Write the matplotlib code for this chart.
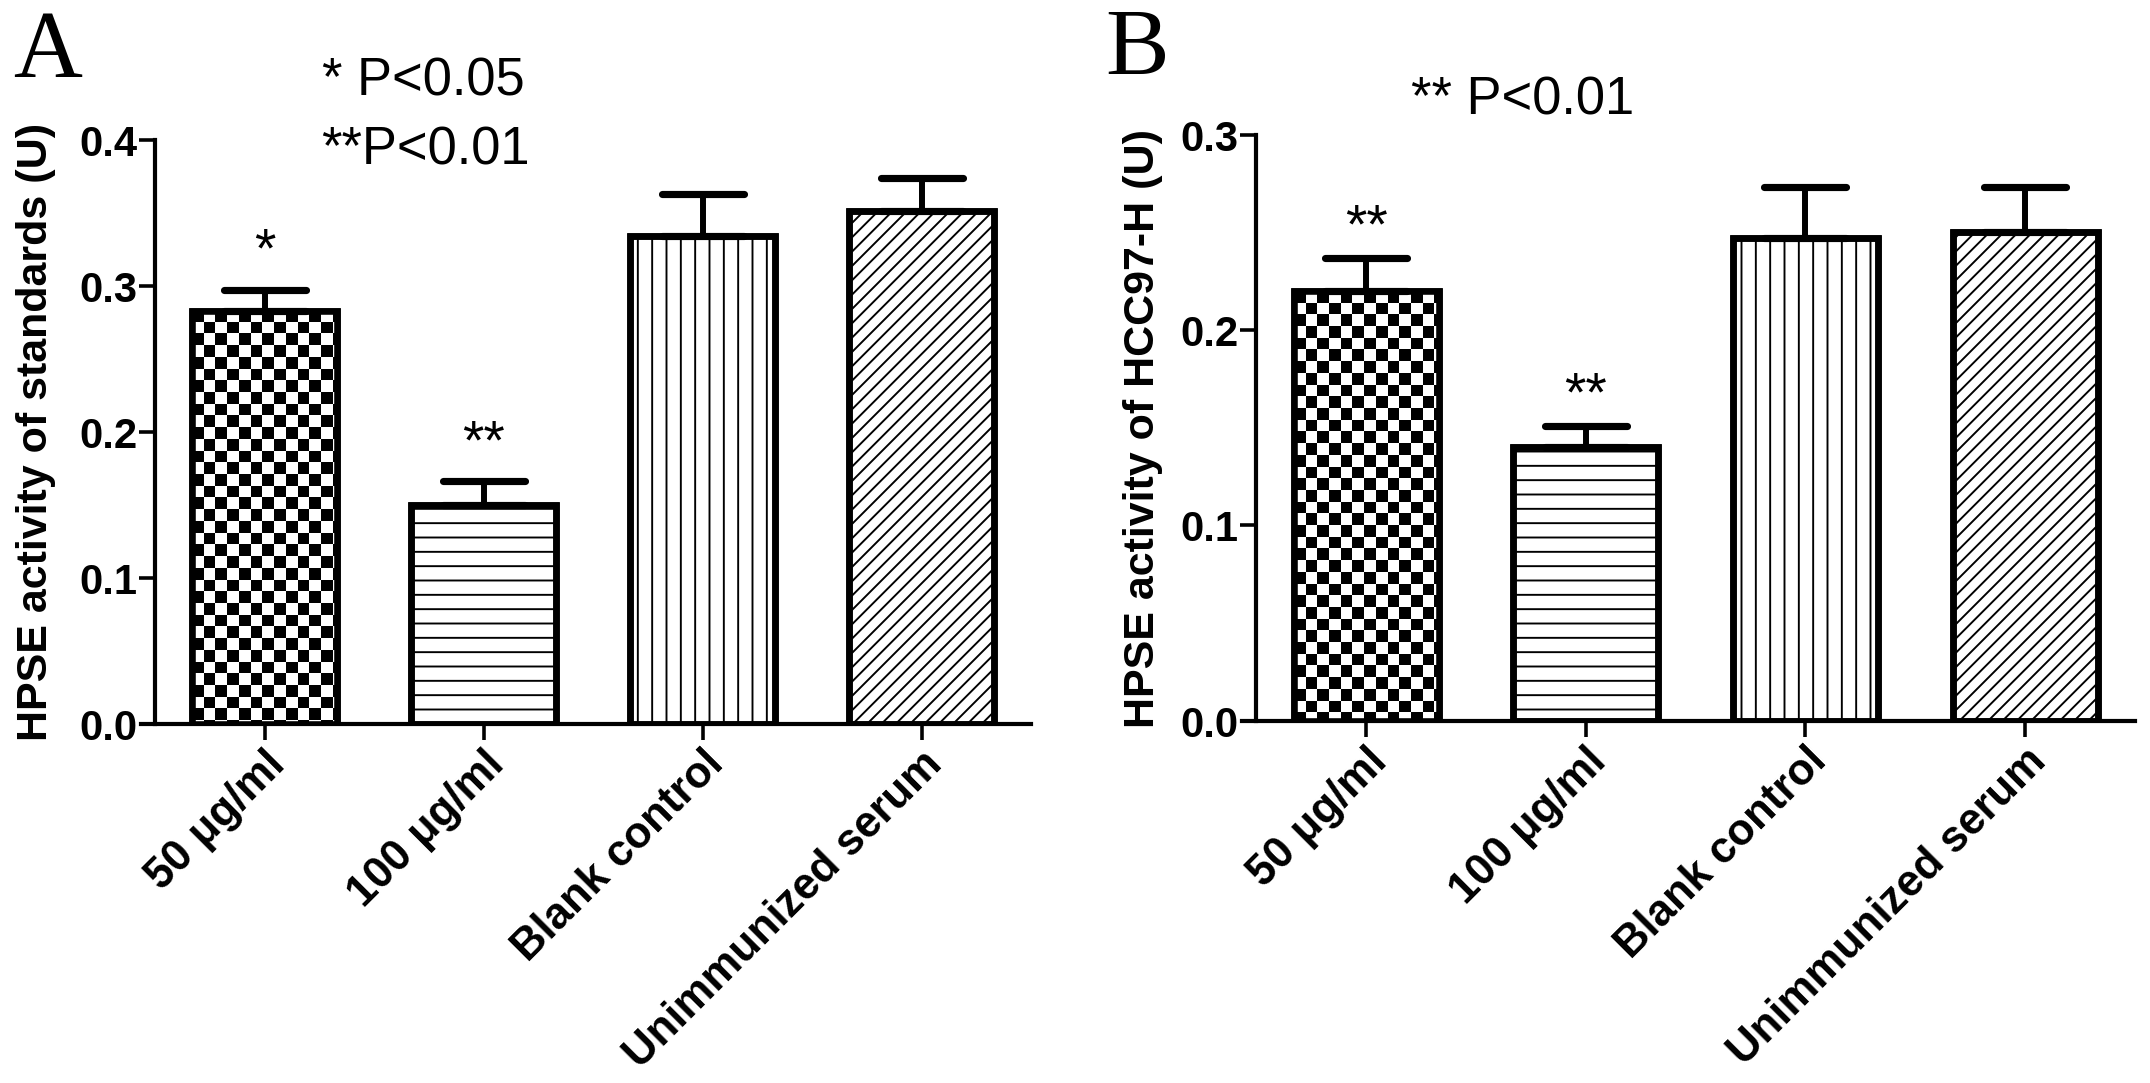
import numpy as np
import matplotlib
matplotlib.use("Agg")
import matplotlib.pyplot as plt
from matplotlib.markers import MarkerStyle

# ---- data ----
groups = ["50 \u03bcg/ml", "100 \u03bcg/ml", "Blank control", "Unimmunized serum"]

a_mean = [0.283, 0.150, 0.334, 0.351]
a_err = [0.014, 0.016, 0.029, 0.023]
a_stars = ["*", "**", "", ""]

b_mean = [0.220, 0.140, 0.247, 0.250]
b_err = [0.017, 0.011, 0.026, 0.023]
b_stars = ["**", "**", "", ""]

a_ticks = [0.0, 0.1, 0.2, 0.3, 0.4]
b_ticks = [0.0, 0.1, 0.2, 0.3]

DPI = 86
W, H = 2150, 1083
SANS = "Liberation Sans"
SERIF = "Liberation Serif"

plt.rcParams["hatch.linewidth"] = 1.6
plt.rcParams["font.family"] = SANS

HATCHES = [None, "-", "|", "//"]
CELL_PX = 11.7  # checkerboard cell size


def checker_fill(ax, bar):
    """Paint a black/white checkerboard inside one bar (no such hatch in mpl)."""
    x0, y0 = bar.get_x(), bar.get_y()
    w, h = bar.get_width(), bar.get_height()
    p0 = ax.transData.transform((x0, y0))
    p1 = ax.transData.transform((x0 + w, y0 + h))
    nx = int(np.ceil((p1[0] - p0[0]) / CELL_PX)) + 1
    ny = int(np.ceil((p1[1] - p0[1]) / CELL_PX)) + 1
    dx = w / ((p1[0] - p0[0]) / CELL_PX)
    dy = h / ((p1[1] - p0[1]) / CELL_PX)
    board = (np.add.outer(np.arange(ny), np.arange(nx)) % 2).astype(float)
    top = y0 + h
    im = ax.imshow(board, cmap="gray", vmin=0, vmax=1, interpolation="nearest",
                   aspect="auto", origin="upper",
                   extent=(x0, x0 + nx * dx, top - ny * dy, top), zorder=2)
    im.set_clip_path(bar)


def draw_panel(ax, means, errs, stars, ticks, ylabel, star_off):
    x = np.arange(len(means))
    ax.set_xlim(-0.565, 3.5)
    ax.set_ylim(0, ticks[-1])
    ax.set_autoscale_on(False)

    bars = ax.bar(x, means, width=0.66, color="white", edgecolor="black",
                  linewidth=5.5, zorder=1)
    for bar, hatch in zip(bars, HATCHES):
        if hatch:
            bar.set_hatch(hatch)
    checker_fill(ax, bars[0])
    # outline again above the checkerboard
    ax.bar(x, means, width=0.66, fill=False, edgecolor="black",
           linewidth=5.5, zorder=3)

    _, caps, _ = ax.errorbar(x, means, yerr=[np.zeros(len(errs)), errs], fmt="none",
                             ecolor="black", elinewidth=5, capsize=34, capthick=6,
                             zorder=4)
    for c in caps:
        c.set_marker(MarkerStyle("_", capstyle="round"))

    for xi, m, e, s in zip(x, means, errs, stars):
        if s:
            ax.annotate(s, xy=(xi, m + e), xytext=(0, star_off), textcoords="offset points",
                        ha="center", va="baseline", fontsize=46, family=SANS)

    for side in ("top", "right"):
        ax.spines[side].set_visible(False)
    ax.spines["left"].set_position(("data", -0.5))
    ax.spines["left"].set_linewidth(3.5)
    ax.spines["bottom"].set_linewidth(3.5)

    ax.set_yticks(ticks)
    ax.set_yticklabels([f"{t:.1f}" for t in ticks], fontsize=35, fontweight="bold")
    ax.set_xticks(x)
    ax.set_xticklabels(groups, rotation=45, ha="right", va="top",
                       rotation_mode="anchor", fontsize=36.5, fontweight="bold")
    ax.tick_params(axis="y", length=13, width=3, pad=2)
    ax.tick_params(axis="x", length=13, width=3, pad=3)
    ax.set_ylabel(ylabel, fontsize=36, fontweight="bold")


fig = plt.figure(figsize=(W / DPI, (H + 0.4) / DPI), dpi=DPI)

ax_a = fig.add_axes([141 / W, 1 - 724 / H, 890 / W, 584 / H])
draw_panel(ax_a, a_mean, a_err, a_stars, a_ticks,
           "HPSE activity of standards (U)", star_off=20)
ax_a.yaxis.set_label_coords(-0.096, 0.5)

ax_b = fig.add_axes([1242 / W, 1 - 721 / H, 893 / W, 586 / H])
draw_panel(ax_b, b_mean, b_err, b_stars, b_ticks,
           "HPSE activity of HCC97-H (U)", star_off=13)
ax_b.yaxis.set_label_coords(-0.088, 0.5)

# panel letters and p-value keys
fig.text(13 / W, 1 - 77 / H, "A", family=SERIF, fontsize=80, va="baseline")
fig.text(1105 / W, 1 - 75 / H, "B", family=SERIF, fontsize=80, va="baseline")
fig.text(322 / W, 1 - 95 / H, "* P<0.05", fontsize=44, va="baseline")
fig.text(321 / W, 1 - 164 / H, "**P<0.01", fontsize=44, va="baseline")
fig.text(1411 / W, 1 - 114 / H, "** P<0.01", fontsize=44, va="baseline")

fig.savefig("out.png", dpi=DPI, facecolor="white")
